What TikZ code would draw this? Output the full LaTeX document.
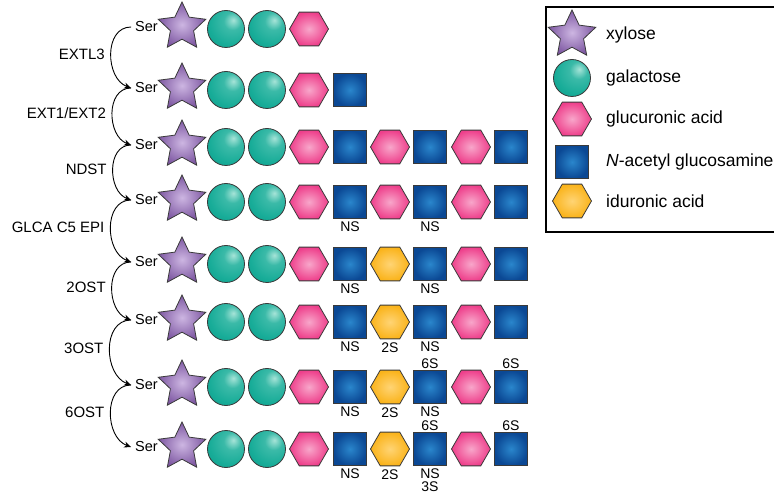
\documentclass[tikz,border=0pt]{standalone}
\usepackage{fontspec}
\setmainfont{Liberation Sans}
\usetikzlibrary{arrows.meta,positioning,shapes.geometric}
\definecolor{edge}{HTML}{3A3A3A}
\definecolor{xyl}{HTML}{7E58A2}
\definecolor{xyllt}{HTML}{CDB6E2}
\definecolor{gal}{HTML}{17AC98}
\definecolor{galdk}{HTML}{0D8F7D}
\definecolor{gallt}{HTML}{A6E4D8}
\definecolor{glc}{HTML}{EE3F8B}
\definecolor{glclt}{HTML}{F8A6CA}
\definecolor{nag}{HTML}{0B4894}
\definecolor{naglt}{HTML}{2A86CC}
\definecolor{ido}{HTML}{FAB31A}
\definecolor{idolt}{HTML}{FFD474}
\pgfdeclareradialshading{galball}{\pgfpoint{10bp}{12bp}}{color(0bp)=(gallt); color(12bp)=(gal!75!gallt); color(30bp)=(gal); color(55bp)=(galdk); color(100bp)=(galdk)}

\begin{document}
\begin{tikzpicture}[x=1pt,y=-1pt,
  xylo/.style={star,star points=5,star point ratio=2.05,minimum size=50pt,inner sep=0pt,draw=edge,line width=0.8pt,inner color=xyllt,outer color=xyl},
  galo/.style={circle,minimum size=37pt,inner sep=0pt,draw=edge,line width=0.8pt,shade,shading=galball},
  glca/.style={regular polygon,regular polygon sides=6,minimum size=39pt,inner sep=0pt,draw=edge,line width=0.8pt,inner color=glclt,outer color=glc},
  idoa/.style={regular polygon,regular polygon sides=6,minimum size=39pt,inner sep=0pt,draw=edge,line width=0.8pt,inner color=idolt,outer color=ido},
  nacg/.style={rectangle,minimum size=33pt,inner sep=0pt,draw=edge,line width=0.8pt,inner color=naglt,outer color=nag},
  ser/.style={font=\fontsize{14.5}{17}\selectfont,anchor=east,inner sep=0pt,inner xsep=4pt},
  enz/.style={font=\fontsize{15}{18}\selectfont,anchor=east,inner sep=0pt,xshift=-6pt},
  mod/.style={font=\fontsize{14}{13}\selectfont,inner sep=0pt,align=center},
  lgd/.style={font=\fontsize{17.5}{20}\selectfont,anchor=west,inner sep=0pt},
  flow/.style={-{Stealth[length=7pt,width=6pt]},line width=0.9pt,looseness=1.15}]
  \useasboundingbox (0,0) rectangle (774,494);
  \foreach \r/\y in {1/29,2/90,3/147,4/202,5/264,6/322,7/387,8/449} {
    \node[ser] (ser\r) at (162,\y-2) {Ser};
    \node[xylo] (x\r) at (182,\y-2) {};
    \node[galo] (ga\r) at (226,\y) {};
    \node[galo] (gb\r) at (267,\y) {};
    \node[glca] (ua\r) at (309,\y) {};
  }
  \node[nacg] (na2) at (350,90) {};
  \foreach \r/\y/\h in {3/147/glca,4/202/glca,5/264/idoa,6/322/idoa,7/387/idoa,8/449/idoa} {
    \node[nacg] (na\r) at (350,\y) {};
    \node[\h] (ub\r) at (390,\y) {};
    \node[nacg] (nb\r) at (430,\y) {};
    \node[glca] (uc\r) at (471,\y) {};
    \node[nacg] (nc\r) at (511,\y) {};
  }
  \foreach \r in {4,...,8} \node[mod,below=3pt of na\r] (nsa\r) {NS};
  \foreach \r in {4,...,7} \node[mod,below=3pt of nb\r] (nsb\r) {NS};
  \node[mod,below=3pt of nb8] (nsb8) {NS\\3S};
  \foreach \r in {6,7,8} \node[mod,below=3pt of ub\r] (tw\r) {2S};
  \foreach \r in {7,8} {
    \node[mod,above=1pt of nb\r] (sxb\r) {6S};
    \node[mod,above=1pt of nc\r] (sxc\r) {6S};
  }
  \foreach \a/\b/\t in {1/2/EXTL3,2/3/{EXT1/EXT2},3/4/NDST,4/5/GLCA C5 EPI,5/6/2OST,6/7/3OST,7/8/6OST}
    \draw[flow] (ser\a.west) to[out=180,in=160] node[enz,midway] (e\a) {\t} (ser\b.west);
  \draw[line width=1.5pt] (546,7) rectangle (800,232);
  \foreach \s/\t/\y [count=\i] in {xylo/xylose/35,galo/galactose/78,glca/glucuronic acid/119,nacg/{\textit{N}-acetyl glucosamine}/162,idoa/iduronic acid/201} {
    \node[\s] (k\i) at (572,\y) {};
    \node[lgd] (l\i) at (606,\y) {\t};
  }
\end{tikzpicture}
\end{document}
